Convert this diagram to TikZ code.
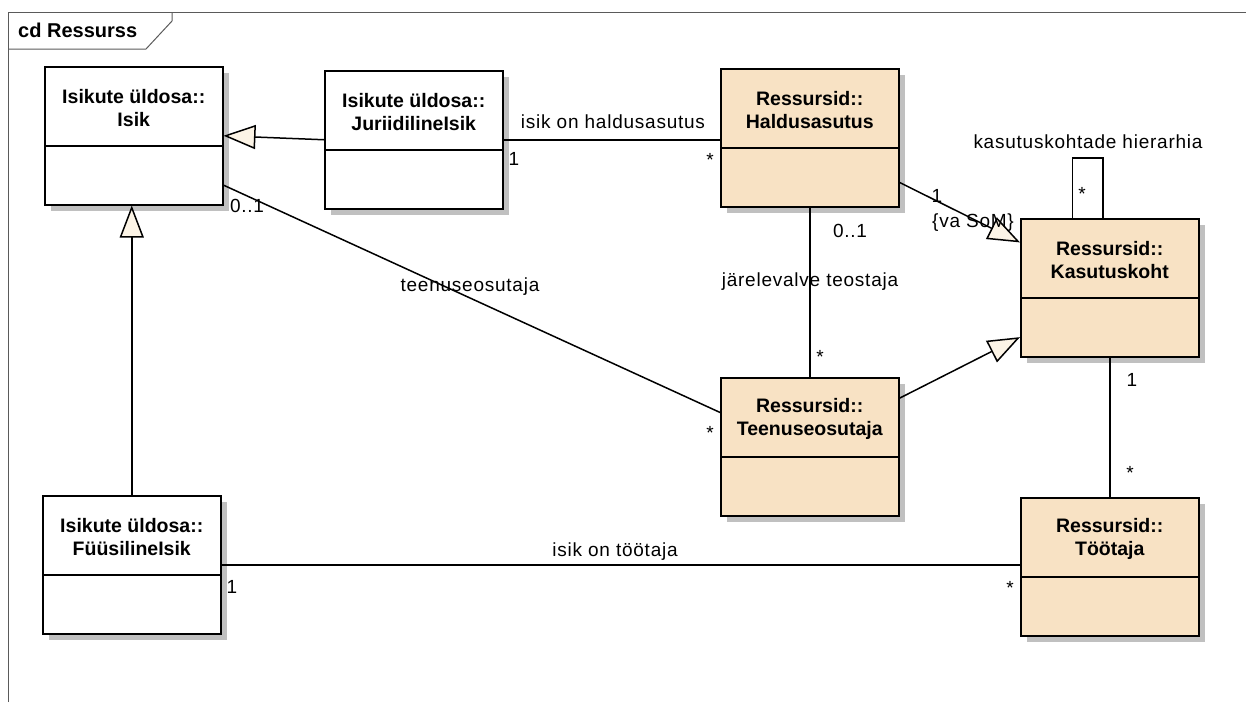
\documentclass[tikz,border=0pt]{standalone}
\usepackage{fontspec}
\setmainfont{Liberation Sans}
\newfontfamily\labelfont[LetterSpace=4]{Liberation Sans}
\usetikzlibrary{arrows.meta,calc,shadows}

\definecolor{resfill}{RGB}{248,226,196}
\definecolor{genfill}{RGB}{252,244,230}
\definecolor{shadowgray}{RGB}{192,192,192}
\definecolor{framegray}{RGB}{90,90,90}

\begin{document}
\begin{tikzpicture}[x=1pt,y=-1pt,
  classbox/.style={draw=black, line width=1.5pt, minimum width=178pt,
    minimum height=138pt, inner sep=0pt, anchor=north west,
    drop shadow={shadow xshift=6pt, shadow yshift=-6pt, fill=shadowgray, opacity=1}},
  isikclass/.style={classbox, fill=white},
  resclass/.style={classbox, fill=resfill},
  classtitle/.style={align=center, inner sep=0pt,
    font=\bfseries\fontsize{19.5}{23}\selectfont},
  divider/.style={line width=1.5pt},
  assoc/.style={line width=1.5pt},
  gen/.style={line width=1.5pt, line join=miter,
    -{Triangle[length=32pt,width=24pt,fill=genfill]}},
  lbl/.style={anchor=base, inner sep=0pt, font=\labelfont\fontsize{19}{22}\selectfont},
]
\useasboundingbox (0,0) rectangle (1246,702);

% diagram frame with its name tab
\draw[framegray, line width=1pt] (8,702) -- (8,12) -- (1246,12);
\draw[framegray, line width=1pt] (8,49) -- (146,49) -- (172,21) -- (172,12);
\node[anchor=base west, inner sep=0pt, font=\bfseries\fontsize{20}{24}\selectfont]
  (frametitle) at (18,37) {cd Ressurss};

% classes
\node[isikclass] (isik)  at (44,66)   {};
\node[isikclass] (jur)   at (324,70)  {};
\node[isikclass] (fuus)  at (42,495)  {};
\node[resclass]  (hald)  at (720,68)  {};
\node[resclass]  (kasut) at (1020,218) {};
\node[resclass]  (teen)  at (720,377) {};
\node[resclass]  (toot)  at (1020,497) {};

\foreach \c in {isik,jur,fuus,hald,kasut,teen,toot}
  \draw[divider] ($(\c.north west)+(0,80)$) -- ($(\c.north east)+(0,80)$);

\node[classtitle] (isik-t)  at ($(isik.north)+(0,42)$)  {Isikute üldosa::\\Isik};
\node[classtitle] (jur-t)   at ($(jur.north)+(0,42)$)   {Isikute üldosa::\\JuriidilineIsik};
\node[classtitle] (fuus-t)  at ($(fuus.north)+(0,42)$)  {Isikute üldosa::\\FüüsilineIsik};
\node[classtitle] (hald-t)  at ($(hald.north)+(0,42)$)  {Ressursid::\\Haldusasutus};
\node[classtitle] (kasut-t) at ($(kasut.north)+(0,42)$) {Ressursid::\\Kasutuskoht};
\node[classtitle] (teen-t)  at ($(teen.north)+(0,42)$)  {Ressursid::\\Teenuseosutaja};
\node[classtitle] (toot-t)  at ($(toot.north)+(0,42)$)  {Ressursid::\\Töötaja};

% generalizations
\draw[gen] (jur.west) -- (isik.east);
\draw[gen] (fuus.north) -- (fuus.north |- isik.south);
\draw[gen] ($(hald.north east)!0.82!(hald.south east)$) -- ($(kasut.north west)!0.175!(kasut.south west)$);
\draw[gen] ($(teen.north east)!0.152!(teen.south east)$) -- ($(kasut.north west)!0.854!(kasut.south west)$);

% associations
\draw[assoc] (jur.east) -- (jur.east -| hald.west);
\draw[assoc] ($(isik.north east)!0.854!(isik.south east)$) -- ($(teen.north west)!0.254!(teen.south west)$);
\draw[assoc] (hald.south) -- (teen.north);
\draw[assoc] (kasut.south) -- (toot.north);
\draw[assoc] (fuus.east) -- (fuus.east -| toot.west);
\draw[assoc] ($(kasut.north west)!0.292!(kasut.north east)$) -- ++(0,-60)
  -| ($(kasut.north west)!0.461!(kasut.north east)$);

% association names and multiplicities
\node[lbl] (l-haldname) at (613,128) {isik on haldusasutus};
\node[lbl] (l-jur1)     at (514,165) {1};
\node[lbl] (l-haldst)   at (710,166) {*};
\node[lbl] (l-isik01)   at (247,212) {0..1};
\node[lbl] (l-teenname) at (470,291) {teenuseosutaja};
\node[lbl] (l-teenst)   at (710,439) {*};
\node[lbl] (l-hald01)   at (850,237) {0..1};
\node[lbl] (l-jarname)  at (810,286) {järelevalve teostaja};
\node[lbl] (l-jarst)    at (820,363) {*};
\node[lbl] (l-hald1)    at (937,202) {1};
\node[lbl] (l-vasom)    at (973,227) {\{va SoM\}};
\node[lbl] (l-hiername) at (1088,148) {kasutuskohtade hierarhia};
\node[lbl] (l-hierst)   at (1082,200) {*};
\node[lbl] (l-kasut1)   at (1132,386) {1};
\node[lbl] (l-tootst)   at (1130,479) {*};
\node[lbl] (l-tootst2)  at (1010,594) {*};
\node[lbl] (l-tootname) at (615,556) {isik on töötaja};
\node[lbl] (l-fuus1)    at (232,593) {1};
\end{tikzpicture}
\end{document}
